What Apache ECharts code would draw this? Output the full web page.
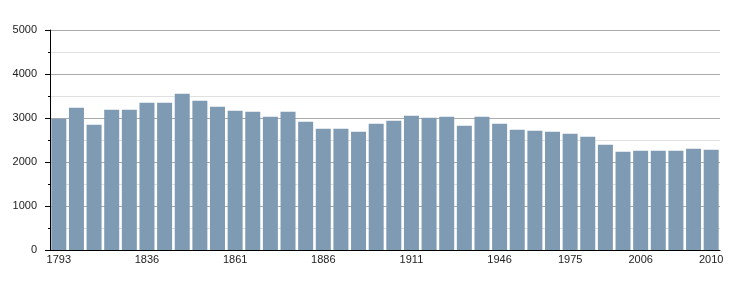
<!DOCTYPE html>
<html>
<head>
<meta charset="utf-8">
<script src="https://cdn.jsdelivr.net/npm/echarts@6/dist/echarts.min.js"></script>
<style>html,body{margin:0;padding:0;background:#fff}#c{width:750px;height:300px}</style>
</head>
<body>
<div id="c"></div>
<script>
const years = ['1793','1800','1806','1821','1831','1836','1841','1846','1851','1856','1861','1866','1872','1876','1881','1886','1891','1896','1901','1906','1911','1921','1926','1931','1936','1946','1954','1962','1968','1975','1982','1990','1999','2006','2007','2008','2009','2010'];
const population = [2985,3235,2849,3189,3189,3349,3349,3553,3394,3258,3167,3144,3030,3144,2917,2758,2758,2689,2871,2939,3053,3008,3030,2826,3030,2871,2735,2712,2689,2644,2576,2394,2235,2258,2258,2258,2303,2280];
const shownLabels = ['1793','1836','1861','1886','1911','1946','1975','2006','2010'];
const yTicks = {min: 0, max: 5000, interval: 1000};

const chart = echarts.init(document.getElementById('c'), null, {renderer: 'canvas'});
chart.setOption({
  animation: false,
  grid: {left: 50, right: 30, top: 30, bottom: 50, containLabel: false},
  xAxis: {
    type: 'category',
    data: years,
    axisLine: {lineStyle: {color: '#000', width: 1}},
    axisTick: {show: false},
    axisLabel: {
      interval: (i, v) => shownLabels.includes(v),
      color: '#222', fontSize: 11, fontFamily: 'Liberation Sans, Arial, sans-serif', margin: 4
    }
  },
  yAxis: {
    type: 'value',
    min: yTicks.min, max: yTicks.max, interval: yTicks.interval,
    axisLine: {show: true, lineStyle: {color: '#000', width: 1}},
    axisTick: {show: true, length: 5, lineStyle: {color: '#000'}},
    minorTick: {show: true, splitNumber: 2, length: 2, lineStyle: {color: '#000'}},
    splitLine: {show: true, lineStyle: {color: '#aaa', width: 1}},
    minorSplitLine: {show: true, lineStyle: {color: '#e0e0e0', width: 1}},
    axisLabel: {color: '#222', fontSize: 11, fontFamily: 'Liberation Sans, Arial, sans-serif', margin: 13, formatter: v => String(v)}
  },
  series: [{
    type: 'bar',
    data: population,
    barCategoryGap: '15%',
    itemStyle: {color: '#7f9ab3'}
  }]
});
</script>
</body>
</html>
